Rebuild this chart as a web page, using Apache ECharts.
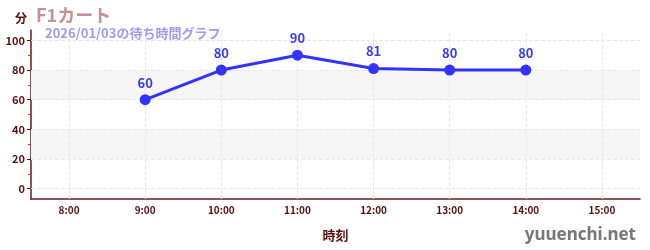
<!DOCTYPE html>
<html><head><meta charset="utf-8">
<script src="https://cdn.jsdelivr.net/npm/echarts@6/dist/echarts.min.js"></script>
<style>html,body{margin:0;padding:0;background:#fff}#c{width:650px;height:250px}</style>
</head><body><div id="c"></div>
<script>
const categories = ['8:00','9:00','10:00','11:00','12:00','13:00','14:00','15:00'];
const waitTimes = [null, 60, 80, 90, 81, 80, 80, null];
const yTicks = [0, 20, 40, 60, 80, 100];
const yMinorTicks = [10, 30, 50, 70, 90];
const titleText = 'F1カート';
const subtitleText = '2026/01/03の待ち時間グラフ';
const yName = '分';
const xName = '時刻';
const credit = 'yuuenchi.net';
const bands = [[20, 40], [60, 80]];

const FONT = '"Noto Sans CJK JP", "Noto Sans", sans-serif';
const AXIS_COLOR = '#5a0f0f';
const GRID_LINE = {color: '#e8e8e8', type: 'dashed', width: 1};
const chart = echarts.init(document.getElementById('c'), null, {renderer: 'canvas'});
chart.setOption({
  animation: false,
  textStyle: {fontFamily: FONT},
  title: [
    {text: titleText, left: 31, top: 1, textStyle: {fontSize: 18, fontWeight: 'bold', color: '#c49292', fontFamily: FONT}},
    {text: subtitleText, left: 40, top: 22, textStyle: {fontSize: 13, fontWeight: 'bold', color: '#9c9cf2', fontFamily: FONT}}
  ],
  graphic: [{type: 'text', right: 14, bottom: 6, style: {text: credit, fontSize: 17, fontFamily: '"Noto Sans", sans-serif', fill: '#777', fontWeight: 'bold'}}],
  grid: {left: 31, right: 10, top: 30, bottom: 51, containLabel: false},
  xAxis: {
    type: 'category', data: categories, boundaryGap: true,
    name: xName, nameLocation: 'middle', nameGap: 30,
    nameTextStyle: {color: AXIS_COLOR, fontSize: 13, fontWeight: 'bold', fontFamily: FONT},
    axisLine: {onZero: false, lineStyle: {color: '#6b1a1a', width: 1.5}},
    axisTick: {alignWithLabel: true, lineStyle: {color: AXIS_COLOR}, length: 4},
    axisLabel: {color: AXIS_COLOR, fontSize: 10, fontWeight: 'bold', margin: 6},
    splitLine: {show: false}
  },
  yAxis: [{
    type: 'value', min: -7, max: 107,
    name: yName, nameLocation: 'end', nameGap: 6,
    nameTextStyle: {color: AXIS_COLOR, fontSize: 12, fontWeight: 'bold', align: 'right', padding: [0, 4, 0, 0]},
    axisLine: {show: true, onZero: false, lineStyle: {color: '#6b1a1a', width: 1.5}},
    axisTick: {show: true, length: 4, lineStyle: {color: AXIS_COLOR}, customValues: yTicks},
    axisLabel: {color: AXIS_COLOR, fontSize: 11, fontWeight: 'bold', margin: 6, customValues: yTicks},
    splitLine: {show: false}
  }, {
    type: 'value', min: -7, max: 107, position: 'left',
    axisLine: {show: false},
    axisTick: {show: true, length: 3, inside: false, lineStyle: {color: '#e03030'}, customValues: yMinorTicks},
    axisLabel: {show: false, customValues: yMinorTicks},
    splitLine: {show: false}
  }],
  series: [{
    type: 'line', data: [], z: 1, silent: true,
    markArea: {silent: true, itemStyle: {color: '#f6f6f6'}, data: bands.map(b => [{yAxis: b[0]}, {yAxis: b[1]}])},
    markLine: {silent: true, symbol: 'none', label: {show: false}, lineStyle: GRID_LINE,
      data: categories.map(c => ({xAxis: c})).concat(yTicks.map(v => ({yAxis: v})))}
  }, {
    type: 'line', data: waitTimes, connectNulls: false, z: 5,
    lineStyle: {color: '#3333ff', width: 3},
    itemStyle: {color: '#3333ff'},
    symbol: 'circle', symbolSize: 11,
    label: {show: true, position: 'top', distance: 5, color: '#3b3bf5', fontSize: 13, fontWeight: 'bold', fontFamily: FONT}
  }]
});
</script></body></html>
